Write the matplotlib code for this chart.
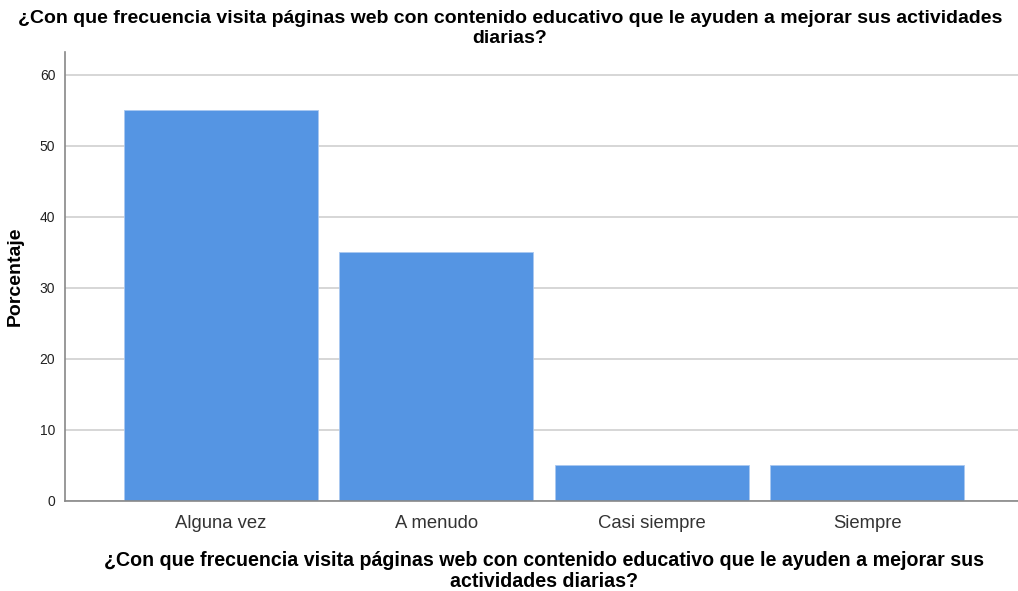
import matplotlib.pyplot as plt

plt.rcParams['font.family'] = ['Liberation Sans', 'DejaVu Sans']

categorias = ['Alguna vez', 'A menudo', 'Casi siempre', 'Siempre']
porcentajes = [55, 35, 5, 5]
yticks = [0, 10, 20, 30, 40, 50, 60]
titulo = '¿Con que frecuencia visita páginas web con contenido educativo que le ayuden a mejorar sus actividades\ndiarias?'
xlabel = '¿Con que frecuencia visita páginas web con contenido educativo que le ayuden a mejorar sus\nactividades diarias?'

fig = plt.figure(figsize=(10.18, 5.91), dpi=100)
ax = fig.add_axes([0.0639, 0.1523, 0.9361, 0.7597])

x = range(len(categorias))
ax.bar(x, porcentajes, width=0.9, color='#5595e3', edgecolor='#a9c8f0', linewidth=0.6, zorder=2)

ax.set_xlim(-0.724, 3.70)
ax.set_ylim(0, 63.2)
ax.set_yticks(yticks)
ax.set_xticks(list(x))
ax.set_xticklabels(categorias, fontsize=13.3, color='#333333')
ax.tick_params(axis='y', labelsize=10, length=0, pad=7, labelcolor='#222222')
ax.tick_params(axis='x', length=0, pad=10)
ax.yaxis.grid(True, color='#d0d0d0', linewidth=1.2, zorder=0)
ax.set_axisbelow(True)

for s in ['top', 'right']:
    ax.spines[s].set_visible(False)
for s in ['left', 'bottom']:
    ax.spines[s].set_color('#888888')
    ax.spines[s].set_linewidth(1.2)

ax.set_ylabel('Porcentaje', fontsize=14, fontweight='bold')
ax.yaxis.set_label_coords(-0.043, 0.5)
ax.set_xlabel(xlabel, fontsize=14.1, fontweight='bold', linespacing=1.12)
ax.xaxis.set_label_coords(0.503, -0.112)
ax.xaxis.label.set_va('top')
fig.text(0.501, 0.983, titulo, ha='center', va='top', fontsize=14, fontweight='bold', linespacing=1.22)

fig.savefig('out.png', dpi=100)
